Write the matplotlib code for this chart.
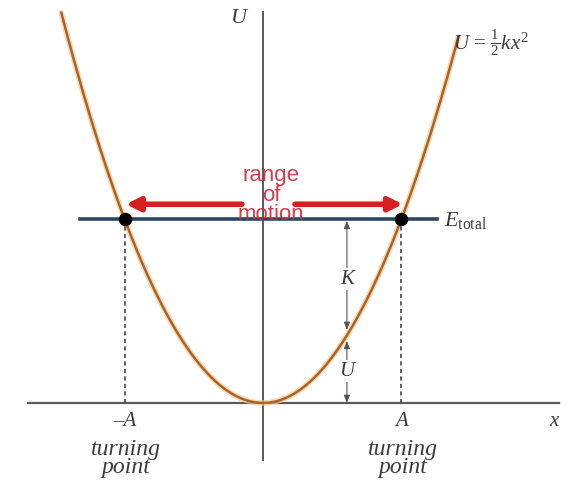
import numpy as np
import matplotlib
matplotlib.use("Agg")
import matplotlib.pyplot as plt

plt.rcParams['mathtext.fontset'] = 'custom'
plt.rcParams['mathtext.rm'] = 'Liberation Serif'
plt.rcParams['mathtext.it'] = 'Liberation Serif:italic'

# ---- data (units: x in A, energy in E_total) ----
A = 1.0
E_total = 1.0
k = 2 * E_total / A**2
x_range = [-1.50, 1.41]          # extent of the drawn parabola
turning_x = [-A, A]
tick_labels = ['\u2013A', 'A']
x_probe = 0.606                  # where K and U are indicated
e_line = [-1.32, 1.256]
arrow_left = [-0.152, -0.99]     # tail, head
arrow_right = [0.231, 1.01]
arrow_y = 1.08

fig = plt.figure(figsize=(5.75, 4.83), dpi=100)
ax = fig.add_axes([0, 0, 1, 1])
ax.set_xlim(-1.899, 2.253)
ax.set_ylim(-0.435, 2.190)
ax.axis('off')

axis_col = '#5a5a5a'
# axes
ax.plot([-1.70, 2.14], [0, 0], color=axis_col, lw=1.6, zorder=1)
ax.plot([0, 0], [-0.31, 2.125], color=axis_col, lw=1.4, zorder=1)

# parabola
xs = np.linspace(x_range[0], x_range[1], 400)
U = 0.5 * k * xs**2
keep = U <= 2.14
ax.plot(xs[keep], U[keep], color='#f6c88e', lw=4.0, alpha=0.7, zorder=2,
        solid_capstyle='round')
ax.plot(xs[keep], U[keep], color='#a8642a', lw=1.8, zorder=3)

# dashed verticals
for tx in turning_x:
    ax.plot([tx, tx], [0, E_total], color='#444444', lw=1.2,
            linestyle=(0, (2.5, 2.0)), zorder=2)

# energy line
ax.plot(e_line, [E_total, E_total], color='#2b4766', lw=2.6, zorder=4)
ax.scatter(turning_x, [E_total, E_total], s=75, color='black', zorder=6)

# red arrows
red = '#d42020'
for tail, head in (arrow_left, arrow_right):
    ax.annotate('', xy=(head, arrow_y), xytext=(tail, arrow_y),
                arrowprops=dict(arrowstyle='-|>,head_length=0.8,head_width=0.4',
                                lw=4.0, color=red, shrinkA=0, shrinkB=0),
                zorder=5)

ax.text(0.06, 1.13, 'range\nof\nmotion', color='#cc2a3c', fontsize=16,
        family='Liberation Sans', ha='center', va='center', linespacing=0.88,
        zorder=7, alpha=0.9)

# K and U arrows
u_probe = 0.5 * k * x_probe**2
small = dict(arrowstyle='<|-|>,head_length=0.45,head_width=0.18', lw=0.8,
             color='#555555', shrinkA=0, shrinkB=0)
ax.annotate('', xy=(x_probe, E_total - 0.01), xytext=(x_probe, u_probe + 0.03),
            arrowprops=small, zorder=4)
ax.annotate('', xy=(x_probe, u_probe - 0.03), xytext=(x_probe, 0.0),
            arrowprops=small, zorder=4)

serif = 'Liberation Serif'
lab_col = '#3a3a3a'
ax.text(x_probe, (E_total + u_probe) / 2 - 0.01, 'K', style='italic', family=serif,
        fontsize=15, color=lab_col, ha='center', va='center', zorder=5,
        bbox=dict(facecolor='white', edgecolor='none', pad=1))
ax.text(x_probe, u_probe / 2 - 0.01, 'U', style='italic', family=serif,
        fontsize=15, color=lab_col, ha='center', va='center', zorder=5,
        bbox=dict(facecolor='white', edgecolor='none', pad=1))

# labels
ax.text(-0.17, 2.09, 'U', style='italic', family=serif, fontsize=16,
        color=lab_col, ha='center', va='center')
ax.text(1.37, 1.96, r'$U\,=\,\frac{1}{2}kx^2$', fontsize=15,
        color=lab_col, ha='left', va='center')
ax.text(1.31, E_total - 0.01, r'$E_{\mathrm{total}}$', fontsize=16,
        color=lab_col, ha='left', va='center')
for tx, tl in zip(turning_x, tick_labels):
    ax.text(tx, -0.10, tl, style='italic', family=serif, fontsize=15,
            color=lab_col, ha='center', va='center')
    ax.text(tx + 0.01, -0.30, 'turning\npoint', style='italic', family=serif,
            fontsize=17, color=lab_col, ha='center', va='center', linespacing=0.82)
ax.text(2.10, -0.10, 'x', style='italic', family=serif, fontsize=15,
        color=lab_col, ha='center', va='center')

fig.savefig('out.png', dpi=100, facecolor='white')
